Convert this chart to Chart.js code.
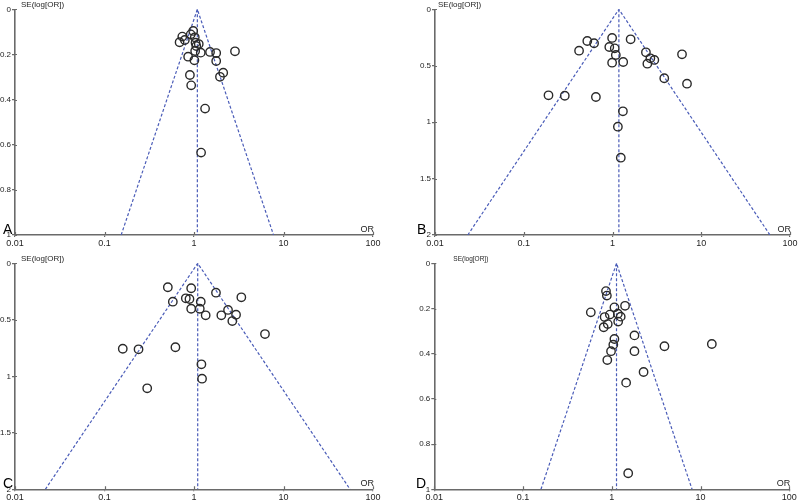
<!DOCTYPE html>
<html>
<head>
<meta charset="utf-8">
<script src="https://cdn.jsdelivr.net/npm/chart.js@4.4.0/dist/chart.umd.min.js"></script>
<style>
    html, body { margin: 0; padding: 0; background: #ffffff; }
    #wrap { position: relative; width: 800px; height: 503px; overflow: hidden; background: #ffffff; }
    canvas { position: absolute; }
</style>
</head>
<body>
<div id="wrap">
    <canvas id="chartA" width="400" height="250" style="left:0px;top:0px;width:400px;height:250px"></canvas>
    <canvas id="chartB" width="400" height="250" style="left:400px;top:0px;width:400px;height:250px"></canvas>
    <canvas id="chartC" width="400" height="253" style="left:0px;top:250px;width:400px;height:253px"></canvas>
    <canvas id="chartD" width="400" height="253" style="left:400px;top:250px;width:400px;height:253px"></canvas>
</div>
<script>
// Ticks
const orTicks = [0.01, 0.1, 1, 10, 100];
const seTicksSmall = [0, 0.2, 0.4, 0.6, 0.8, 1];
const seTicksLarge = [0, 0.5, 1, 1.5, 2];

// Panel A
const orA = [0.98, 0.92, 0.74, 0.79, 0.69, 1.02, 1.04, 1.13, 1.06, 1.03, 1.19, 1.51, 1.77, 2.87,
             0.86, 1.01, 1.77, 2.12, 1.95, 0.90, 0.93, 1.33, 1.20];
const seA = [0.096, 0.111, 0.121, 0.136, 0.146, 0.124, 0.148, 0.154, 0.163, 0.185, 0.192, 0.189, 0.194, 0.186,
             0.21, 0.226, 0.229, 0.281, 0.299, 0.291, 0.337, 0.44, 0.635];
const pooledA = 1.09;

// Panel B
const orB = [0.52, 0.62, 0.99, 1.60, 0.42, 0.92, 1.06, 1.09, 0.99, 1.32, 2.38, 2.67, 2.96, 2.47,
             6.07, 3.83, 6.91, 0.19, 0.29, 0.65, 1.31, 1.15, 1.24];
const seB = [0.281, 0.301, 0.254, 0.266, 0.367, 0.334, 0.346, 0.405, 0.473, 0.467, 0.381, 0.434, 0.449, 0.482,
             0.399, 0.611, 0.659, 0.762, 0.766, 0.777, 0.904, 1.04, 1.315];
const pooledB = 1.18;

// Panel C
const orC = [0.51, 0.93, 1.76, 3.38, 0.58, 0.81, 0.89, 1.19, 0.93, 1.16, 1.35, 2.02, 2.40, 2.95,
             2.68, 6.21, 0.16, 0.24, 0.62, 1.21, 1.23, 0.30];
const seC = [0.212, 0.221, 0.26, 0.301, 0.34, 0.31, 0.316, 0.34, 0.402, 0.402, 0.46, 0.46, 0.413, 0.455,
             0.511, 0.626, 0.756, 0.761, 0.743, 0.894, 1.021, 1.106];
const pooledC = 1.1;

// Panel D
const orD = [0.86, 0.88, 1.41, 1.07, 0.58, 0.95, 0.83, 1.17, 1.26, 1.18, 0.90, 0.81, 1.80, 1.07,
             1.04, 0.98, 1.80, 3.92, 13.4, 0.89, 2.28, 1.45, 1.53];
const seD = [0.123, 0.143, 0.188, 0.195, 0.217, 0.227, 0.238, 0.223, 0.236, 0.258, 0.269, 0.283, 0.319, 0.335,
             0.36, 0.389, 0.389, 0.367, 0.357, 0.428, 0.481, 0.528, 0.929];
const pooledD = 1.13;

const FONT = '"Liberation Sans", Arial, sans-serif';
const TEXT_COLOR = '#1e1e1e';
const AXIS_COLOR = '#6a6a6a';
const LINE_COLOR = '#4a5cb8';
const POINT_COLOR = '#2a2a2a';

// Labels drawn on top: y title, "OR", panel letter, and the small tick stubs inside the axes
const labelPlugin = {
    id: 'panelLabels',
    afterDraw(chart, args, opts) {
        const ctx = chart.ctx;
        const area = chart.chartArea;
        ctx.save();

        // tick stubs crossing into the plot
        ctx.strokeStyle = AXIS_COLOR;
        ctx.lineWidth = 1.2;
        ctx.beginPath();
        chart.scales.x.ticks.forEach(t => {
            const px = Math.round(chart.scales.x.getPixelForValue(t.value)) + 0.5;
            ctx.moveTo(px, area.bottom);
            ctx.lineTo(px, area.bottom - 3);
        });
        chart.scales.y.ticks.forEach(t => {
            const py = Math.round(chart.scales.y.getPixelForValue(t.value)) + 0.5;
            ctx.moveTo(area.left, py);
            ctx.lineTo(area.left + 2, py);
        });
        ctx.stroke();

        ctx.fillStyle = TEXT_COLOR;
        ctx.textBaseline = 'middle';
        ctx.textAlign = 'left';
        ctx.font = opts.titleSize + 'px ' + FONT;
        ctx.fillText('SE(log[OR])', area.left + opts.titleDx, area.top - 4.5);

        ctx.font = '9px ' + FONT;
        ctx.textAlign = 'right';
        ctx.textBaseline = 'bottom';
        ctx.fillText('OR', area.right + 1, area.bottom - 1);

        ctx.fillStyle = '#000000';
        ctx.font = '14px ' + FONT;
        ctx.textAlign = 'left';
        ctx.textBaseline = 'alphabetic';
        ctx.fillText(opts.letter, opts.letterX, area.bottom - 1.5);
        ctx.restore();
    }
};

function createFunnel(canvasId, panel) {
    const seMax = panel.seTicks[panel.seTicks.length - 1];
    const spread = Math.exp(1.96 * seMax);
    const points = panel.ors.map((v, i) => ({ x: v, y: panel.ses[i] }));

    const lineStyle = {
        type: 'scatter',
        showLine: true,
        borderColor: LINE_COLOR,
        borderWidth: 1.2,
        borderDash: [3, 2],
        pointRadius: 0,
        fill: false,
        order: 2
    };

    const data = {
        datasets: [{
            ...lineStyle,
            data: [
                { x: panel.pooled / spread, y: seMax },
                { x: panel.pooled, y: 0 },
                { x: panel.pooled * spread, y: seMax }
            ]
        }, {
            ...lineStyle,
            data: [
                { x: panel.pooled, y: 0 },
                { x: panel.pooled, y: seMax }
            ]
        }, {
            type: 'scatter',
            data: points,
            pointStyle: 'circle',
            pointRadius: 4.2,
            borderWidth: 1.4,
            borderColor: POINT_COLOR,
            backgroundColor: 'rgba(0,0,0,0)',
            order: 1
        }]
    };

    new Chart(document.getElementById(canvasId).getContext('2d'), {
        type: 'scatter',
        data: data,
        options: {
            responsive: false,
            animation: false,
            events: [],
            layout: {
                padding: { top: panel.padTop, right: panel.padRight, left: 0, bottom: 0 }
            },
            plugins: {
                legend: { display: false },
                tooltip: { enabled: false },
                panelLabels: {
                    letter: panel.letter,
                    letterX: panel.letterX,
                    titleDx: panel.titleDx,
                    titleSize: panel.titleSize
                }
            },
            scales: {
                x: {
                    type: 'logarithmic',
                    min: orTicks[0],
                    max: orTicks[orTicks.length - 1],
                    afterBuildTicks: (scale) => { scale.ticks = orTicks.map(v => ({ value: v })); },
                    afterFit: (scale) => { scale.height = panel.xHeight; },
                    grid: { drawOnChartArea: false, drawTicks: true, tickLength: 2, color: AXIS_COLOR, lineWidth: 1.2 },
                    border: { display: true, color: AXIS_COLOR, width: 1.6 },
                    ticks: {
                        color: TEXT_COLOR,
                        font: { family: FONT, size: 9 },
                        padding: 1,
                        autoSkip: false,
                        maxRotation: 0,
                        callback: (value) => String(value)
                    }
                },
                y: {
                    type: 'linear',
                    reverse: true,
                    min: 0,
                    max: seMax,
                    afterBuildTicks: (scale) => { scale.ticks = panel.seTicks.map(v => ({ value: v })); },
                    afterFit: (scale) => { scale.width = panel.yWidth; },
                    grid: { drawOnChartArea: false, drawTicks: true, tickLength: 3, color: AXIS_COLOR, lineWidth: 1.2 },
                    border: { display: true, color: AXIS_COLOR, width: 1.6 },
                    ticks: {
                        color: TEXT_COLOR,
                        font: { family: FONT, size: 8 },
                        padding: 1,
                        callback: (value) => String(value)
                    }
                }
            }
        },
        plugins: [labelPlugin]
    });
}

createFunnel('chartA', {
    letter: 'A', ors: orA, ses: seA, pooled: pooledA, seTicks: seTicksSmall,
    padTop: 9.3, padRight: 27, yWidth: 15, xHeight: 15, letterX: 3, titleDx: 6, titleSize: 8
});
createFunnel('chartB', {
    letter: 'B', ors: orB, ses: seB, pooled: pooledB, seTicks: seTicksLarge,
    padTop: 9.3, padRight: 10, yWidth: 35, xHeight: 15, letterX: 17, titleDx: 3, titleSize: 8
});
createFunnel('chartC', {
    letter: 'C', ors: orC, ses: seC, pooled: pooledC, seTicks: seTicksLarge,
    padTop: 13.3, padRight: 27, yWidth: 15, xHeight: 13.7, letterX: 3, titleDx: 6, titleSize: 8
});
createFunnel('chartD', {
    letter: 'D', ors: orD, ses: seD, pooled: pooledD, seTicks: seTicksSmall,
    padTop: 13.3, padRight: 10.7, yWidth: 34.3, xHeight: 13.7, letterX: 16, titleDx: 19, titleSize: 6.5
});
</script>
</body>
</html>
